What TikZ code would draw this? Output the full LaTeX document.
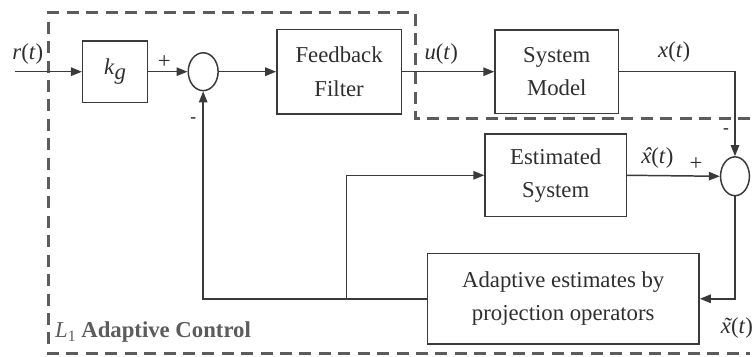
\documentclass[tikz,border=0pt]{standalone}
\usepackage{fontspec}
\setmainfont{Liberation Serif}
\usetikzlibrary{arrows.meta,shapes.geometric}
\begin{document}
\begin{tikzpicture}[x=0.02cm,y=-0.02cm,font=\fontsize{13}{19}\selectfont,
  blk/.style={draw=linegray,line width=0.85pt,text=boxtext,align=center,inner sep=0pt},
  sumnode/.style={draw=linegray,line width=0.85pt,ellipse,inner sep=0pt},
  sig/.style={draw=linegray,line width=0.85pt,-{Triangle[length=0.22cm,width=0.17cm]}},
  lbl/.style={text=boxtext,inner sep=0pt}]
  \definecolor{linegray}{HTML}{3A3A3A}
  \definecolor{boxtext}{HTML}{2E2E2E}
  \definecolor{dashgray}{HTML}{5C5C5C}
  % dashed region of the L1 controller
  \draw[dashgray,line width=1.7pt,dash pattern=on 0.24cm off 0.15cm]
    (753,119) -- (417,119) -- (417,13) -- (49,13) -- (49,355) -- (753,355);
  \node[anchor=west,text=dashgray,font=\bfseries\fontsize{13}{19}\selectfont,inner sep=0pt]
    (ltitle) at (55,333) {\textit{\mdseries L}\raisebox{-0.45ex}{\fontsize{9}{10}\selectfont\mdseries 1} Adaptive Control};
  % blocks
  \node[blk,minimum width=1.3cm,minimum height=1.24cm] (kg) at (115.5,72)
    {\textit{k}\raisebox{-0.5ex}{\textit{g}}};
  \node[sumnode,minimum width=0.6cm,minimum height=0.76cm] (sum1) at (204,72) {};
  \node[blk,minimum width=2.5cm,minimum height=1.7cm] (ff) at (340.5,72) {Feedback\\Filter};
  \node[blk,minimum width=2.48cm,minimum height=1.68cm] (sm) at (559,72) {System\\Model};
  \node[blk,minimum width=2.84cm,minimum height=1.66cm] (est) at (558,176) {Estimated\\System};
  \node[sumnode,minimum width=0.58cm,minimum height=0.78cm] (sum2) at (738,177) {};
  \node[blk,minimum width=5.46cm,minimum height=1.82cm] (adapt) at (565.5,300)
    {Adaptive estimates by\\projection operators};
  \coordinate (in) at (15,72);
  \coordinate (br) at (348,300);
  % signals
  \draw[sig] (in) -- (kg.west);
  \draw[sig] (kg.east) -- (sum1.west);
  \draw[sig] (sum1.east) -- (ff.west);
  \draw[sig] (ff.east) -- (sm.west);
  \draw[sig] (sm.east) -| (sum2.north);
  \draw[sig] (est.east) -- (sum2.west);
  \draw[sig] (sum2.south) |- (adapt.east);
  \draw[sig] (adapt.west) -| (sum1.south);
  \draw[sig] (br) |- (est.west);
  % labels
  \node[lbl] (rt) at (28,54) {\textit{r}(\textit{t})};
  \node[lbl] (plus1) at (165,62) {+};
  \node[lbl,font=\bfseries] (minus1) at (194,121) {-};
  \node[lbl] (ut) at (443,54) {\textit{u}(\textit{t})};
  \node[lbl] (xt) at (677,52) {\textit{x}(\textit{t})};
  \node[lbl,font=\bfseries] (minus2) at (729,132) {-};
  \node[lbl] (xhat) at (660,159)
    {\textit{\ooalign{x\cr\hidewidth\kern0.1em ˆ\hidewidth\cr}}(\textit{t})};
  \node[lbl] (plus2) at (699,165) {+};
  \node[lbl] (xtil) at (740,329)
    {\textit{\ooalign{x\cr\hidewidth\kern0.1em ˜\hidewidth\cr}}(\textit{t})};
  \path[use as bounding box] (0,0) rectangle (753,358);
\end{tikzpicture}
\end{document}
